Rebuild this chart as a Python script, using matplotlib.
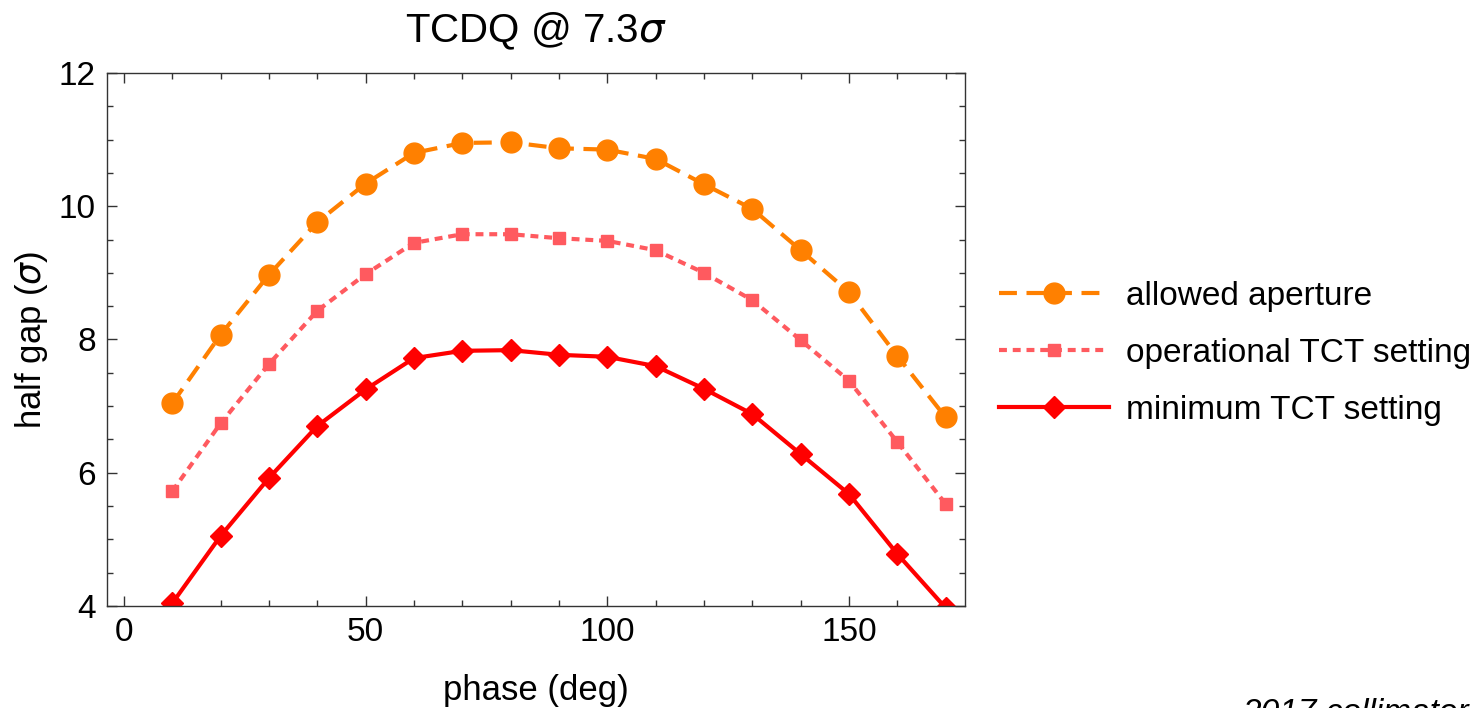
import matplotlib.pyplot as plt
from matplotlib.ticker import MultipleLocator

plt.rcParams['font.family'] = ['Liberation Sans', 'DejaVu Sans']
plt.rcParams['mathtext.fontset'] = 'dejavusans'

# fase (deg) dan half gap (sigma) tiap setting
phase = [10, 20, 30, 40, 50, 60, 70, 80, 90, 100, 110, 120, 130, 140, 150, 160, 170]
allowed = [7.04, 8.07, 8.97, 9.76, 10.34, 10.80, 10.95, 10.96, 10.87, 10.85, 10.71,
           10.33, 9.96, 9.34, 8.71, 7.75, 6.83]
operational = [5.72, 6.74, 7.63, 8.43, 8.98, 9.45, 9.58, 9.58, 9.52, 9.48, 9.34,
               9.00, 8.59, 7.99, 7.38, 6.46, 5.53]
minimum = [4.04, 5.05, 5.92, 6.70, 7.25, 7.72, 7.83, 7.84, 7.77, 7.74, 7.60,
           7.26, 6.88, 6.28, 5.68, 4.78, 3.97]
labels = ["allowed aperture", "operational TCT setting", "minimum TCT setting"]

fig = plt.figure(figsize=(14.79, 7.08), dpi=100)
ax = fig.add_axes([0.0723, 0.1441, 0.5802, 0.7528])

ax.plot(phase, allowed, color="#FF8000", lw=3, dashes=(4.3, 2.3),
        marker="o", markersize=15, label=labels[0])
ax.plot(phase, operational, color="#FF5A5F", lw=3, dashes=(1.9, 1.4),
        marker="s", markersize=9, label=labels[1])
ax.plot(phase, minimum, color="#FF0000", lw=3,
        marker="D", markersize=11, label=labels[2])

ax.set_xlim(-3.5, 174)
ax.set_ylim(4, 12)
ax.xaxis.set_major_locator(MultipleLocator(50))
ax.xaxis.set_minor_locator(MultipleLocator(10))
ax.yaxis.set_major_locator(MultipleLocator(2))
ax.yaxis.set_minor_locator(MultipleLocator(0.5))
ax.tick_params(which="both", direction="in", top=True, right=True, color="#333333")
ax.tick_params(which="major", length=7, width=1, labelsize=24, pad=8)
ax.tick_params(which="minor", length=4, width=1)
for s in ax.spines.values():
    s.set_color("#333333")
    s.set_linewidth(1)

ax.set_xlabel("phase (deg)", fontsize=25, labelpad=19)
ax.set_ylabel(r"half gap ($\sigma$)", fontsize=25, labelpad=6)
ax.set_title(r"TCDQ @ 7.3$\sigma$", fontsize=29, pad=22)

ax.legend(loc="center left", bbox_to_anchor=(1.04, 0.474), frameon=False,
          fontsize=24, handlelength=3.3, numpoints=1, labelspacing=0.78,
          handletextpad=0.5, borderaxespad=0, borderpad=0)

fig.text(0.84, 0.014, "2017 collimator settings", fontsize=24, style="italic",
         va="top", ha="left")

fig.savefig("out.png", dpi=100)
